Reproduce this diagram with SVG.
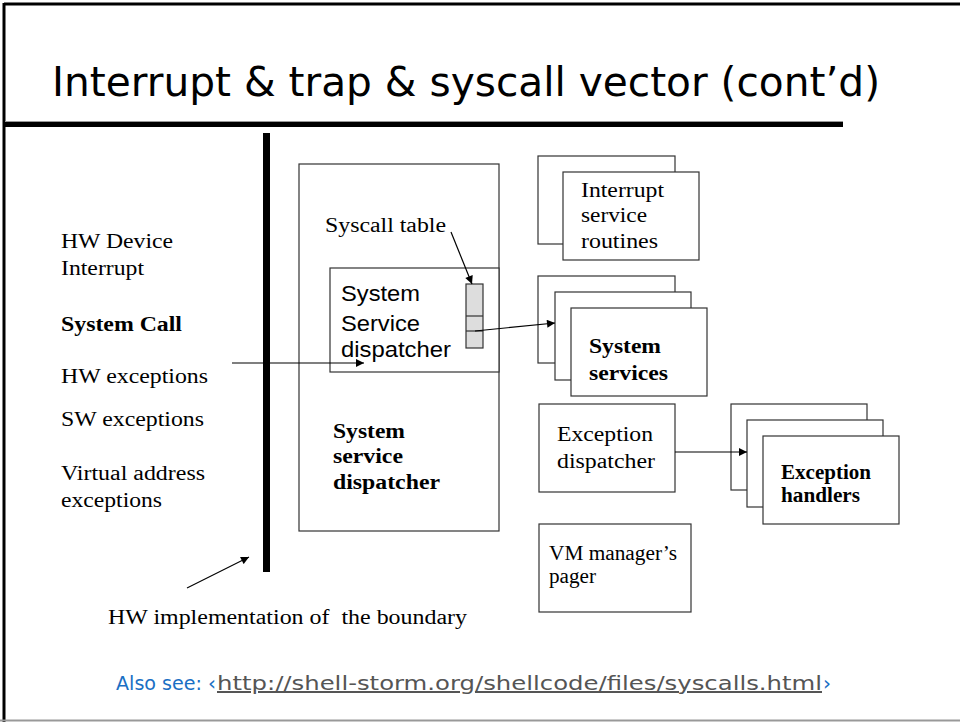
<svg xmlns="http://www.w3.org/2000/svg" width="960" height="722" viewBox="0 0 960 722">
  <defs>
    <marker id="arrow" viewBox="0 0 10 10" refX="10" refY="5" markerWidth="10" markerHeight="8" markerUnits="userSpaceOnUse" orient="auto">
      <path d="M0,0 L10,5 L0,10 z" fill="#000"/>
    </marker>
    <style>
      .box { fill: #fff; stroke: #333; stroke-width: 1.2; }
      .t { font-family: "Liberation Serif", "Times New Roman", serif; font-size: 20px; fill: #000; }
      .b { font-weight: bold; }
      .s { font-family: "Liberation Sans", Arial, sans-serif; font-size: 22px; fill: #000; }
      .c { font-family: "DejaVu Sans", "Noto Sans", sans-serif; }
      .conn { stroke: #000; stroke-width: 1.2; fill: none; marker-end: url(#arrow); }
    </style>
  </defs>

  <rect width="960" height="722" fill="#fff"/>

  <!-- slide frame -->
  <line x1="4" y1="4" x2="960" y2="4" stroke="#000" stroke-width="3"/>
  <line x1="4" y1="3" x2="4" y2="722" stroke="#000" stroke-width="3"/>
  <line x1="0" y1="720.5" x2="960" y2="720.5" stroke="#999" stroke-width="2"/>

  <!-- title and rule -->
  <text class="c" x="52" y="96" font-size="40" textLength="828" lengthAdjust="spacingAndGlyphs">Interrupt &amp; trap &amp; syscall vector (cont’d)</text>
  <rect x="5" y="121" width="838" height="6" fill="#000"/>
  <line x1="5" y1="121.5" x2="843" y2="121.5" stroke="#999" stroke-width="1"/>

  <!-- event sources -->
  <g id="sources">
    <text class="t" x="61" y="248" textLength="112" lengthAdjust="spacingAndGlyphs">HW Device</text>
    <text class="t" x="61" y="275" textLength="83" lengthAdjust="spacingAndGlyphs">Interrupt</text>
    <text class="t b" x="61" y="331" textLength="121" lengthAdjust="spacingAndGlyphs">System Call</text>
    <text class="t" x="61" y="383" textLength="147" lengthAdjust="spacingAndGlyphs">HW exceptions</text>
    <text class="t" x="61" y="426" textLength="143" lengthAdjust="spacingAndGlyphs">SW exceptions</text>
    <text class="t" x="61" y="480" textLength="144" lengthAdjust="spacingAndGlyphs">Virtual address</text>
    <text class="t" x="61" y="507" textLength="101" lengthAdjust="spacingAndGlyphs">exceptions</text>
  </g>

  <!-- outer dispatcher box -->
  <g id="service-dispatcher">
    <rect class="box" x="299" y="164" width="200" height="367"/>
    <text class="t b" x="333" y="438" font-size="21" textLength="72" lengthAdjust="spacingAndGlyphs">System</text>
    <text class="t b" x="333" y="463" font-size="21" textLength="70" lengthAdjust="spacingAndGlyphs">service</text>
    <text class="t b" x="333" y="489" font-size="21" textLength="107" lengthAdjust="spacingAndGlyphs">dispatcher</text>
  </g>

  <g id="syscall-label">
    <text class="t" x="325" y="232" textLength="121" lengthAdjust="spacingAndGlyphs">Syscall table</text>
  </g>

  <!-- inner dispatcher with syscall table -->
  <g id="inner-dispatcher">
    <rect class="box" x="330" y="268" width="169" height="104"/>
    <text class="s" x="341" y="301" textLength="79" lengthAdjust="spacingAndGlyphs">System</text>
    <text class="s" x="341" y="331" textLength="79" lengthAdjust="spacingAndGlyphs">Service</text>
    <text class="s" x="341" y="357" textLength="110" lengthAdjust="spacingAndGlyphs">dispatcher</text>
  </g>

  <g id="syscall-table">
    <rect x="466" y="284" width="17" height="64" fill="#ddd" stroke="#333" stroke-width="1.2"/>
    <line x1="466" y1="316" x2="483" y2="316" stroke="#333" stroke-width="1.2"/>
    <line x1="466" y1="331" x2="483" y2="331" stroke="#333" stroke-width="1.2"/>
  </g>

  <!-- interrupt service routines -->
  <g id="isr">
    <rect class="box" x="538" y="156" width="137" height="88"/>
    <rect class="box" x="563" y="172" width="136" height="88"/>
    <text class="t" x="581" y="197" textLength="83" lengthAdjust="spacingAndGlyphs">Interrupt</text>
    <text class="t" x="581" y="222" textLength="66" lengthAdjust="spacingAndGlyphs">service</text>
    <text class="t" x="581" y="248" textLength="77" lengthAdjust="spacingAndGlyphs">routines</text>
  </g>

  <!-- system services -->
  <g id="system-services">
    <rect class="box" x="538" y="276" width="137" height="87"/>
    <rect class="box" x="555" y="292" width="136" height="88"/>
    <rect class="box" x="571" y="308" width="136" height="88"/>
    <text class="t b" x="589" y="353" font-size="21" textLength="72" lengthAdjust="spacingAndGlyphs">System</text>
    <text class="t b" x="589" y="380" font-size="21" textLength="79" lengthAdjust="spacingAndGlyphs">services</text>
  </g>

  <!-- exception dispatcher -->
  <g id="exception-dispatcher">
    <rect class="box" x="539" y="404" width="136" height="88"/>
    <text class="t" x="557" y="441" font-size="21" textLength="96" lengthAdjust="spacingAndGlyphs">Exception</text>
    <text class="t" x="557" y="468" font-size="21" textLength="98" lengthAdjust="spacingAndGlyphs">dispatcher</text>
  </g>

  <!-- exception handlers -->
  <g id="exception-handlers">
    <rect class="box" x="731" y="404" width="136" height="86"/>
    <rect class="box" x="747" y="420" width="136" height="87"/>
    <rect class="box" x="763" y="436" width="136" height="88"/>
    <text class="t b" x="781" y="479" font-size="19" textLength="90" lengthAdjust="spacingAndGlyphs">Exception</text>
    <text class="t b" x="781" y="502" font-size="19" textLength="79" lengthAdjust="spacingAndGlyphs">handlers</text>
  </g>

  <!-- VM pager -->
  <g id="vm-pager">
    <rect class="box" x="539" y="524" width="152" height="88"/>
    <text class="t" x="549" y="560" font-size="19" textLength="128" lengthAdjust="spacingAndGlyphs">VM manager’s</text>
    <text class="t" x="549" y="583" font-size="19" textLength="47" lengthAdjust="spacingAndGlyphs">pager</text>
  </g>

  <g id="boundary-label">
    <text class="t" x="108" y="624" textLength="359" lengthAdjust="spacingAndGlyphs">HW implementation of&#160; the boundary</text>
  </g>

  <!-- connectors -->
  <g id="connectors">
    <line class="conn" x1="232" y1="363" x2="364" y2="363"/>
    <line class="conn" x1="451" y1="232" x2="472" y2="284"/>
    <line class="conn" x1="475" y1="331" x2="555" y2="323"/>
    <line class="conn" x1="675" y1="452" x2="747" y2="452"/>
    <line class="conn" x1="187" y1="588" x2="249" y2="557"/>
  </g>

  <!-- hardware boundary bar -->
  <rect id="boundary" x="263" y="133" width="7" height="439" fill="#000"/>

  <!-- reference link -->
  <g id="also-see">
    <text class="c" x="116" y="690" font-size="20" fill="#1a6fc4" textLength="86" lengthAdjust="spacingAndGlyphs">Also see:</text>
    <text class="c" x="208" y="690" font-size="20" fill="#1a6fc4">‹</text>
    <text class="c" x="217" y="690" font-size="20" fill="#555" text-decoration="underline" textLength="605" lengthAdjust="spacingAndGlyphs">http://shell-storm.org/shellcode/files/syscalls.html</text>
    <text class="c" x="823" y="690" font-size="20" fill="#1a6fc4">›</text>
  </g>
</svg>
